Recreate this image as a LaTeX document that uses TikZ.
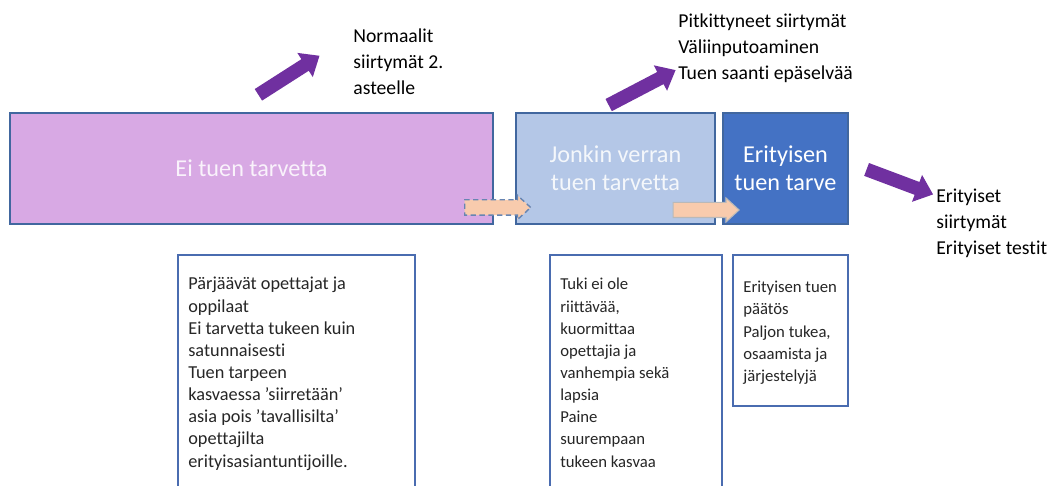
\documentclass[tikz,border=0pt]{standalone}
\usepackage{fontspec}
\setmainfont{Carlito}[Ligatures=NoCommon]
\usetikzlibrary{shapes.arrows,positioning}
\definecolor{nosupport}{HTML}{D8A9E4}
\definecolor{somesupport}{HTML}{B4C7E7}
\definecolor{special}{HTML}{4472C4}
\definecolor{edgeblue}{HTML}{41679F}
\definecolor{noteblue}{HTML}{4A6CB0}
\definecolor{purplearrow}{HTML}{7030A0}
\definecolor{peach}{HTML}{F8CBAD}

\tikzset{
    phase/.style={draw=edgeblue, line width=0.8pt, inner sep=0pt, align=center,
        font=\fontsize{13.8}{16}\selectfont},
    note/.style={draw=noteblue, line width=0.9pt, fill=white, inner sep=0pt},
    notetext/.style={anchor=north west, inner sep=0pt, align=left, text=black!85,
        font=\fontsize{9.5}{12.6}\selectfont},
    outtext/.style={anchor=north west, inner sep=0pt, align=left,
        font=\fontsize{11.2}{14.8}\selectfont},
    bigarrow/.style={single arrow, fill=purplearrow, inner xsep=0pt, inner ysep=0.13cm,
        text height=0pt, text depth=0pt, single arrow head extend=0.15cm, single arrow tip angle=80},
    shiftarrow/.style={single arrow, fill=peach, inner xsep=0pt, inner ysep=0.14cm,
        text height=0pt, text depth=0pt, minimum height=1.32cm,
        single arrow head extend=0.09cm, single arrow tip angle=85}
}

\begin{document}
\begin{tikzpicture}[x=0.02cm, y=-0.02cm]
    \clip (0,0) rectangle (1059,486);
    \fill[white] (0,0) rectangle (1059,486);
    % Draw the three phases
    \node[phase, fill=nosupport, text=white!85!nosupport, minimum width=9.66cm, minimum height=2.22cm] (ei) at (251.5,168.5) {Ei tuen tarvetta};
    \node[phase, fill=somesupport, text=white!85!somesupport, minimum width=3.98cm, minimum height=2.22cm] (jonkin) at (615.5,168.5) {Jonkin verran\\tuen tarvetta};
    \node[phase, fill=special, text=white, minimum width=2.5cm, minimum height=2.22cm] (erit) at (785.5,168.5) {Erityisen\\tuen tarve};
    % Shifts between phases
    \node[shiftarrow, draw=edgeblue!80, densely dashed, line width=0.8pt] (shifta) at (493.5,207.5) {};
    \node[shiftarrow, draw=gray!55, line width=0.6pt] (shiftb) at (702,210) {};
    % Transitions out of each phase
    \node[bigarrow, minimum height=1.45cm, rotate=32.6] (outa) at (285.5,77.5) {};
    \node[bigarrow, minimum height=1.51cm, rotate=27.6] (outb) at (638.5,89.5) {};
    \node[bigarrow, minimum height=1.42cm, rotate=-20.6] (outc) at (896,180.5) {};
    \node[outtext] (norm) at (353,28) {Normaalit\\siirtymät 2.\\asteelle};
    \node[outtext] (pitk) at (678,13) {Pitkittyneet siirtymät\\Väliinputoaminen\\Tuen saanti epäselvää};
    \node[outtext] (erout) at (936,189) {Erityiset\\siirtymät\\Erityiset testit};
    % Notes below the phases
    \node[note, minimum width=4.74cm, minimum height=4.9cm] (notea) at (296.5,377.5) {};
    \node[note, minimum width=3.44cm, minimum height=4.9cm] (noteb) at (636,377.5) {};
    \node[note, minimum width=2.3cm, minimum height=3.02cm] (notec) at (790.5,330.5) {};
    \node[notetext, font=\fontsize{10.4}{12.6}\selectfont] (texta) at (188,277) {Pärjäävät opettajat ja\\oppilaat\\Ei tarvetta tukeen kuin\\satunnaisesti\\Tuen tarpeen\\kasvaessa ’siirretään’\\asia pois ’tavallisilta’\\opettajilta\\erityisasiantuntijoille.};
    \node[notetext] (textb) at (560,278) {Tuki ei ole\\riittävää,\\kuormittaa\\opettajia ja\\vanhempia sekä\\lapsia\\Paine\\suurempaan\\tukeen kasvaa};
    \node[notetext] (textc) at (743,281) {Erityisen tuen\\päätös\\Paljon tukea,\\osaamista ja\\järjestelyjä};
\end{tikzpicture}
\end{document}
